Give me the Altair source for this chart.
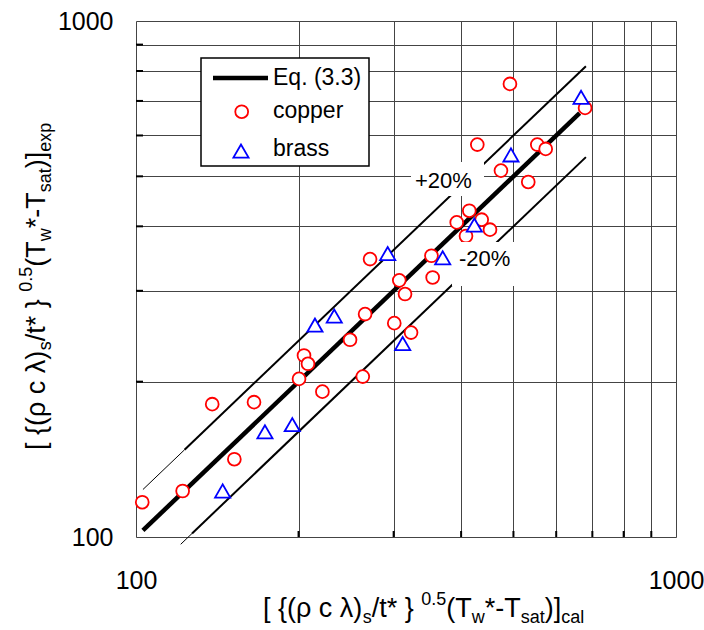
import altair as alt
import pandas as pd

# ---------------- data ----------------
copper_x = [102.7, 122.0, 138.4, 165.4, 152.1, 204.7, 208.2, 200.4, 221.4, 263.0,
            249.1, 265.6, 300.8, 323.1, 271.3, 307.3, 314.9, 352.5, 354.3, 392.6,
            408.4, 414.2, 436.7, 452.4, 474.1, 532.6, 428.6, 553.5, 573.7, 492.6, 678.6]
copper_y = [116.8, 122.8, 180.9, 182.5, 141.5, 224.8, 216.6, 202.5, 191.3, 204.6,
            241.1, 270.4, 259.7, 249.0, 345.6, 314.3, 295.7, 350.8, 318.4, 407.1,
            383.1, 428.9, 412.1, 394.1, 512.9, 487.6, 576.1, 576.1, 565.1, 755.2, 678.6]
brass_x = [144.7, 173.3, 194.7, 214.5, 232.9, 311.8, 292.5, 369.8, 423.2, 494.7, 667.1]
brass_y = [122.8, 159.9, 165.1, 257.4, 268.0, 237.1, 354.3, 347.6, 402.3, 550.1, 711.5]

eq_x = [103, 663]
eq_y = [103, 663]
plus_thin_x = [103, 123]
plus_thin_y = [123.6, 147.6]
plus_x = [123, 681]
plus_y = [147.6, 817.2]
minus_thin_x = [121, 127]
minus_thin_y = [96.8, 101.6]
minus_x = [127, 681]
minus_y = [101.6, 544.8]

grid_values = [100, 200, 300, 400, 500, 600, 700, 800, 900, 1000]
minor_values = [200, 300, 400, 500, 600, 700, 800, 900]
tick_labels = [100, 1000]

legend_labels = ["Eq. (3.3)", "copper", "brass"]

# ---------------- layout ----------------
W, H = 540, 516
LEFT, TOP = 136, 21
FONT = "Liberation Sans"

xs = alt.Scale(type="log", domain=[100, 1000], nice=False)
ys = alt.Scale(type="log", domain=[100, 1000], nice=False)
label_expr = "indexof([100, 1000], datum.value) >= 0 ? datum.label : ''"

x_axis = alt.Axis(values=grid_values, title=None, grid=True, ticks=False, domain=False,
                  format="d", labelExpr=label_expr, labelFontSize=25, labelPadding=31,
                  labelFont=FONT, labelColor="black", gridColor="#444", gridWidth=1,
                  labelFlush=False, labelOverlap=False)
y_axis = alt.Axis(values=grid_values, title=None, grid=True, ticks=False, domain=False,
                  format="d", labelExpr=label_expr, labelFontSize=25, labelPadding=23,
                  labelFont=FONT, labelColor="black", gridColor="#444", gridWidth=1,
                  labelFlush=False, labelOverlap=False)

one = pd.DataFrame({"a": [0]})


def line_layer(xv, yv, width):
    df = pd.DataFrame({"x": xv, "y": yv})
    return alt.Chart(df).mark_line(color="black", strokeWidth=width, strokeCap="butt").encode(
        x=alt.X("x:Q", scale=xs), y=alt.Y("y:Q", scale=ys))


cu = pd.DataFrame({"x": copper_x, "y": copper_y})
br = pd.DataFrame({"x": brass_x, "y": brass_y})

base_pts = alt.Chart(cu).mark_point(shape="circle", filled=True, fill="white", stroke="#ff0000",
                                    strokeWidth=1.8, size=165, opacity=1).encode(
    x=alt.X("x:Q", scale=xs, axis=x_axis), y=alt.Y("y:Q", scale=ys, axis=y_axis))
br_pts = alt.Chart(br).mark_point(shape="triangle-up", filled=True, fill="white", stroke="#0000ff",
                                  strokeWidth=1.8, size=230, opacity=1).encode(
    x=alt.X("x:Q", scale=xs), y=alt.Y("y:Q", scale=ys))

ytick_df = pd.DataFrame({"v": minor_values})
ytick = alt.Chart(ytick_df).mark_rule(color="black", strokeWidth=2).encode(
    y=alt.Y("v:Q", scale=ys), x=alt.value(0), x2=alt.value(7))
xtick = alt.Chart(ytick_df).mark_rule(color="black", strokeWidth=2).encode(
    x=alt.X("v:Q", scale=xs), y=alt.value(H - 6), y2=alt.value(H))


def rect(x1, x2, y1, y2, stroke=None, sw=0):
    kw = dict(fill="white")
    if stroke:
        kw.update(stroke=stroke, strokeWidth=sw)
    return alt.Chart(one).mark_rect(**kw).encode(
        x=alt.value(x1 - LEFT), x2=alt.value(x2 - LEFT), y=alt.value(y1 - TOP), y2=alt.value(y2 - TOP))


def label(txt, x, y, size, align="left", baseline="middle", angle=0):
    kw = dict(text=txt, font=FONT, fontSize=size, align=align, baseline=baseline, color="black")
    if angle:
        kw["angle"] = angle
    return alt.Chart(one).mark_text(**kw).encode(x=alt.value(x - LEFT), y=alt.value(y - TOP))


layers = [ytick, xtick,
          line_layer(eq_x, eq_y, 4.5),
          line_layer(plus_thin_x, plus_thin_y, 1),
          line_layer(plus_x, plus_y, 2),
          line_layer(minus_thin_x, minus_thin_y, 1),
          line_layer(minus_x, minus_y, 2),
          base_pts, br_pts,
          rect(411, 484, 162, 196), label("+20%", 415, 181, 22),
          rect(452, 520, 242, 286), label("-20%", 459, 259, 22),
          rect(201, 369, 58, 166, stroke="black", sw=1.5),
          alt.Chart(one).mark_rule(color="black", strokeWidth=4.5).encode(
              x=alt.value(213 - LEFT), x2=alt.value(268 - LEFT), y=alt.value(78 - TOP)),
          alt.Chart(one).mark_point(shape="circle", filled=True, fill="white", stroke="#ff0000",
                                    strokeWidth=1.8, size=165, opacity=1).encode(
              x=alt.value(241.7 - LEFT), y=alt.value(111.7 - TOP)),
          alt.Chart(one).mark_point(shape="triangle-up", filled=True, fill="white", stroke="#0000ff",
                                    strokeWidth=1.8, size=230, opacity=1).encode(
              x=alt.value(241 - LEFT), y=alt.value(151 - TOP)),
          label(legend_labels[0], 273, 78, 23),
          label(legend_labels[1], 273, 111, 23),
          label(legend_labels[2], 273, 149, 23)]

# ---------------- rich axis titles ----------------
WID = {'[': 278, ']': 278, '{': 334, '}': 334, '(': 333, ')': 333, 'ρ': 578, 'c': 500,
       'λ': 500, 's': 500, '/': 278, 't': 278, '*': 389, ' ': 278, '0': 556, '.': 278,
       '5': 556, 'T': 611, 'w': 722, '-': 333, 'a': 556, 'l': 222, 'e': 556, 'x': 500, 'p': 556}
M, S = 27, 18


def tw(s, size):
    return sum(WID.get(ch, 556) for ch in s) * size / 1000.0


def pieces(last):
    return [("[ {(ρ c λ)", "n"), ("s", "sub"), ("/t*  }", "n"), ("0.5", "sup"), ("(T", "n"),
            ("w", "sub"), ("*-T", "n"), ("sat", "sub"), (")]", "n"), (last, "sub")]


# x title: runs left to right
pos = 263.0
xbase = {"n": 617, "sub": 623, "sup": 605}
for txt, kind in pieces("cal"):
    size = M if kind == "n" else S
    layers.append(label(txt, pos, xbase[kind], size, baseline="alphabetic"))
    pos += tw(txt, size)

# y title: runs bottom to top
pos = 450.0
ybase = {"n": 45, "sub": 51, "sup": 32}
for txt, kind in pieces("exp"):
    size = M if kind == "n" else S
    layers.append(label(txt, ybase[kind], pos, size, baseline="alphabetic", angle=270))
    pos -= tw(txt, size)

chart = alt.layer(*layers).properties(
    width=W, height=H,
    padding={"left": LEFT, "top": TOP, "right": 704 - LEFT - W, "bottom": 630 - TOP - H},
    autosize=alt.AutoSizeParams(type="none"),
).configure_view(stroke="black", strokeWidth=2.5).configure(background="white")

chart.save("out.html", embed_options={"renderer": "svg", "actions": False})
